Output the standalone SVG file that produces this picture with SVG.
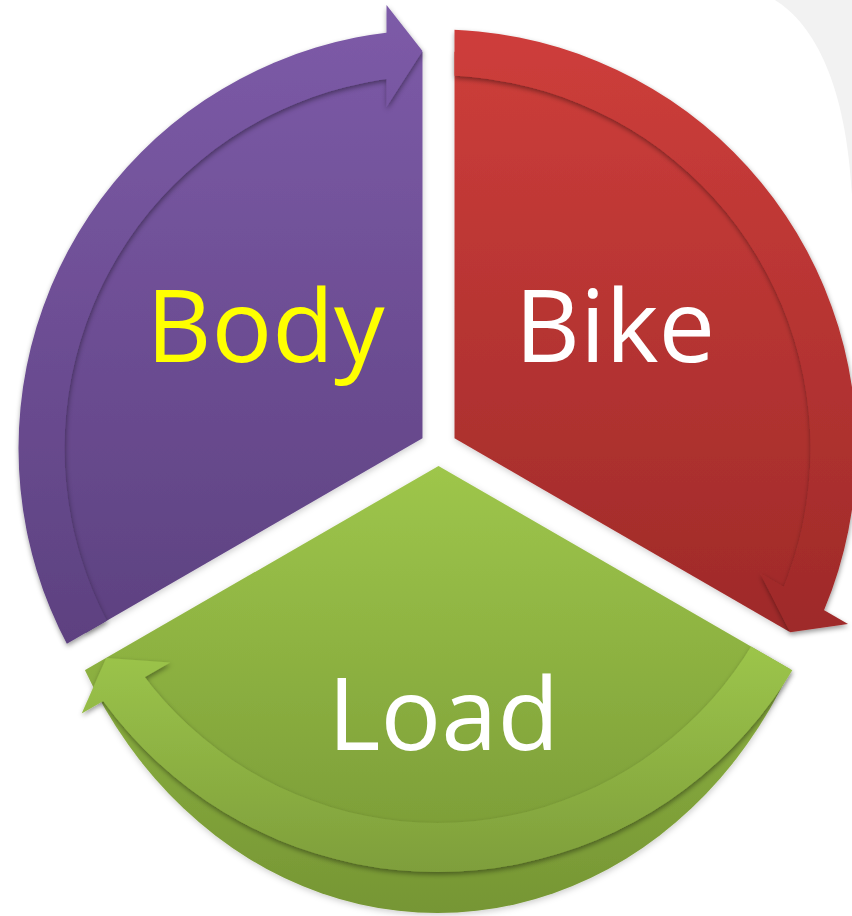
<svg xmlns="http://www.w3.org/2000/svg" width="852" height="916" viewBox="0 0 852 916">
<defs>
<style>
.lbl{font-family:"Open Sans","Liberation Sans",sans-serif;font-size:101px;text-anchor:middle}
</style>
<linearGradient id="gP" gradientUnits="userSpaceOnUse" x1="0" y1="5" x2="0" y2="645"><stop offset="0" stop-color="#7D5BA8"/><stop offset="1" stop-color="#5D4180"/></linearGradient>
<linearGradient id="gR" gradientUnits="userSpaceOnUse" x1="0" y1="30" x2="0" y2="635"><stop offset="0" stop-color="#CE3E3B"/><stop offset="1" stop-color="#9E2A29"/></linearGradient>
<linearGradient id="gG" gradientUnits="userSpaceOnUse" x1="0" y1="466" x2="0" y2="913"><stop offset="0" stop-color="#9EC64B"/><stop offset="1" stop-color="#769634"/></linearGradient>
<linearGradient id="gGB" gradientUnits="userSpaceOnUse" x1="0" y1="640" x2="0" y2="875"><stop offset="0" stop-color="#9DC64B"/><stop offset="1" stop-color="#7E9E3B"/></linearGradient>
<clipPath id="cPW"><polygon points="422.5,-100 422.5,438.3 -270,838.3 -400,838 -400,-100"/></clipPath>
<clipPath id="cRW"><polygon points="454.5,-100 454.5,438.3 1147,838.3 1300,838 1300,-100"/></clipPath>
<clipPath id="cGW"><polygon points="438.5,466 1131.3,866 1300,1300 -400,1300 -254.3,866"/></clipPath>
<clipPath id="cPB"><polygon points="387.5,-100 387.5,458.5 -270,838.3 -400,838 -400,-100"/></clipPath>
<clipPath id="cRB"><polygon points="454.5,-100 454.5,397.9 1164.8,808 1300,808 1300,-100"/></clipPath>
<clipPath id="cGB"><polygon points="473.5,486.2 1131.3,866 1300,1300 -400,1300 -236.8,896.3"/></clipPath>
<filter id="sh" x="-20%" y="-20%" width="140%" height="140%"><feDropShadow dx="0.5" dy="2.5" stdDeviation="2.5" flood-color="#000" flood-opacity="0.4"/></filter>
<filter id="shb" x="-20%" y="-20%" width="140%" height="140%"><feDropShadow dx="0.5" dy="2" stdDeviation="3" flood-color="#000" flood-opacity="0.2"/></filter>
</defs>
<rect width="852" height="916" fill="#FFFFFF"/>
<path d="M775,0 C815,25 846,85 852,195 L852,0 Z" fill="#F2F2F2"/>

<g id="load">
<g filter="url(#shb)"><ellipse cx="437.5" cy="453" rx="400" ry="460" fill="url(#gG)" clip-path="url(#cGW)"/></g>
<g filter="url(#sh)">
<path d="M21.5,450 a416,422 0 1 0 832 0 a416,422 0 1 0 -832 0 Z M68.5,450 a369,373 0 1 0 738 0 a369,373 0 1 0 -738 0 Z" fill-rule="evenodd" fill="url(#gGB)" clip-path="url(#cGB)"/>
<polygon points="170.1,662.6 106.2,657.9 81.7,713.6" fill="url(#gGB)"/>
</g>
<text class="lbl" x="443.5" y="750" fill="#FFFFFF">Load</text>
</g>

<g id="body">
<g filter="url(#shb)"><circle cx="437.5" cy="448.5" r="397" fill="url(#gP)" clip-path="url(#cPW)"/></g>
<g filter="url(#sh)">
<path d="M18.5,448.5 a419,419 0 1 0 838 0 a419,419 0 1 0 -838 0 Z M64.5,448.5 a373,373 0 1 0 746 0 a373,373 0 1 0 -746 0 Z" fill-rule="evenodd" fill="url(#gP)" clip-path="url(#cPB)"/>
<polygon points="386.5,5 422.5,51 386.5,107" fill="url(#gP)"/>
</g>
<text class="lbl" x="265.5" y="362" fill="#FFFF00">Body</text>
</g>

<g id="bike">
<g filter="url(#shb)"><circle cx="437.5" cy="448.5" r="397" fill="url(#gR)" clip-path="url(#cRW)"/></g>
<g filter="url(#sh)">
<path d="M18.5,448.5 a419,419 0 1 0 838 0 a419,419 0 1 0 -838 0 Z M64.5,448.5 a373,373 0 1 0 746 0 a373,373 0 1 0 -746 0 Z" fill-rule="evenodd" fill="url(#gR)" clip-path="url(#cRB)"/>
<polygon points="848,623.9 790.2,632.2 760,573" fill="url(#gR)"/>
</g>
<text class="lbl" x="615" y="362" fill="#FFFFFF">Bike</text>
</g>

<g id="connectors"></g>
</svg>
